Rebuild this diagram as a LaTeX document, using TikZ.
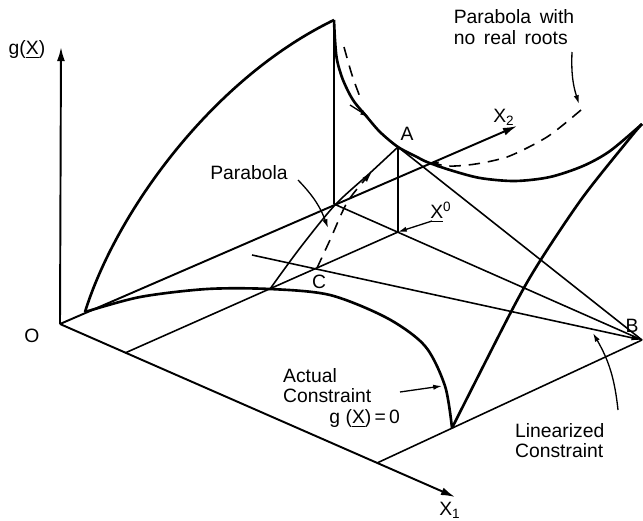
\documentclass[tikz,border=0pt]{standalone}
\usepackage{fontspec}
\setmainfont{Liberation Sans}
\usetikzlibrary{arrows.meta}
\tikzset{%
  axisline/.style={line width=1.1pt, -{Latex[length=8pt, width=4.5pt]}},
  gridline/.style={line width=0.9pt},
  surf/.style={line width=1.5pt, line join=round},
  parab/.style={line width=0.9pt, dash pattern=on 6.5pt off 4.5pt},
  leader/.style={line width=0.75pt, -{Latex[length=5pt, width=3pt]}},
  lbl/.style={font=\fontsize{11}{11.8}\selectfont, inner sep=1pt},
}

\begin{document}
\begin{tikzpicture}[x=0.02cm, y=-0.02cm]
    \useasboundingbox (0,0) rectangle (643,521);
    \coordinate (O) at (60,324);
    \coordinate (G) at (61,47);
    \coordinate (X1) at (455,497);
    \coordinate (X2) at (517,126);
    \coordinate (P) at (85,312);
    \coordinate (T) at (334,20);
    \coordinate (F) at (334,204);
    \coordinate (A) at (398,147);
    \coordinate (X0) at (398,232);
    \coordinate (R) at (125,353);
    \coordinate (S) at (377,463);
    \coordinate (Q) at (270,289);
    \coordinate (C) at (317,268);
    \coordinate (B) at (642,340);
    \coordinate (E) at (452,428);
    \coordinate (K) at (642,124);
    \coordinate (L) at (252,255);

    %axes
    \draw[axisline] (O) -- (G);
    \draw[axisline] (O) -- (X1);
    \draw[axisline] (O) -- (X2);

    %lines in the x1-x2 plane
    \draw[gridline] (R) -- (X0);
    \draw[gridline] (F) -- (B);
    \draw[gridline] (S) -- (B);
    \draw[gridline, -{Latex[length=6pt, width=3pt]}] (L) -- (B);

    %verticals and tangent at A
    \draw[gridline] (T) -- (F);
    \draw[gridline] (A) -- (X0);
    \draw[gridline] (A) -- (B);

    %surface g(X)
    \draw[surf] (P) .. controls (115,215) and (210,80) .. (T);
    \draw[surf] plot[smooth] coordinates {(T) (335,40) (337,60) (343,80) (353,100) (367,117) (380,132) (A)
        (417,157) (427,162) (450,170) (480,178) (515,181) (550,177) (583,166) (610,151) (K)};
    \draw[surf] plot[smooth] coordinates {(E) (512,310) (540,261) (583,197) (630,138) (K)};
    \draw[surf] plot[smooth] coordinates {(P) (140,297) (207,289) (Q) (330,295) (387,318) (425,346) (445,386) (E)};
    \draw[gridline] plot[smooth] coordinates {(Q) (300,248) (335,205) (370,173) (A)};

    %parabolas
    \draw[parab, -{Latex[length=6pt, width=3.5pt]}] plot[smooth] coordinates {(C) (330,240) (348,201) (372,172)};
    \draw[parab] plot[smooth] coordinates {(344,47) (352,75) (360,97)};
    \coordinate (ta) at (350,105);
    \coordinate (tb) at (369,117);
    \draw[leader] (ta) -- (tb);
    \draw[parab, -{Latex[length=6pt, width=3.5pt]}] plot[smooth] coordinates {(581,110) (563,125) (547,137)
        (527,148) (507,157) (487,162) (468,165) (448,166) (428,162)};

    %labels
    \node[lbl] (gl) at (27,50) {g(\underline{X})};
    \node[lbl] (ol) at (32,336) {O};
    \node[lbl] (x1l) at (450,510) {X\textsubscript{1}};
    \node[lbl] (x2l) at (504,117) {X\textsubscript{2}};
    \node[lbl] (al) at (407,134) {A};
    \node[lbl] (bl) at (632,326) {B};
    \node[lbl] (cl) at (319,282) {C};
    \node[lbl] (x0l) at (441,212) {\underline{X}\textsuperscript{0}};
    \node[lbl] (pl) at (249,173) {Parabola};
    \node[lbl, align=left] (nrl) at (514,27) {Parabola \,with\\no \,real \,roots};
    \node[lbl, align=left, anchor=north west] (acl) at (281,366) {Actual\\Constraint\\\hspace*{2.4em}g (\underline{X})\,=\,0};
    \node[lbl, align=left, anchor=north west] (lcl) at (513,421) {Linearized\\Constraint};

    %pointers
    \coordinate (pa) at (298,180);
    \coordinate (pb) at (328,228);
    \draw[leader] (pa) to[bend left=12] (pb);
    \coordinate (na) at (572,52);
    \coordinate (nb) at (579,104);
    \draw[leader] (na) to[bend right=10] (nb);
    \coordinate (aa) at (400,392);
    \coordinate (ab) at (442,386);
    \draw[leader] (aa) -- (ab);
    \coordinate (la) at (618,410);
    \coordinate (lb) at (593,333);
    \draw[leader] (la) to[bend right=12] (lb);
    \coordinate (xa) at (432,221);
    \draw[leader] (xa) -- (X0);

\end{tikzpicture}
\end{document}
